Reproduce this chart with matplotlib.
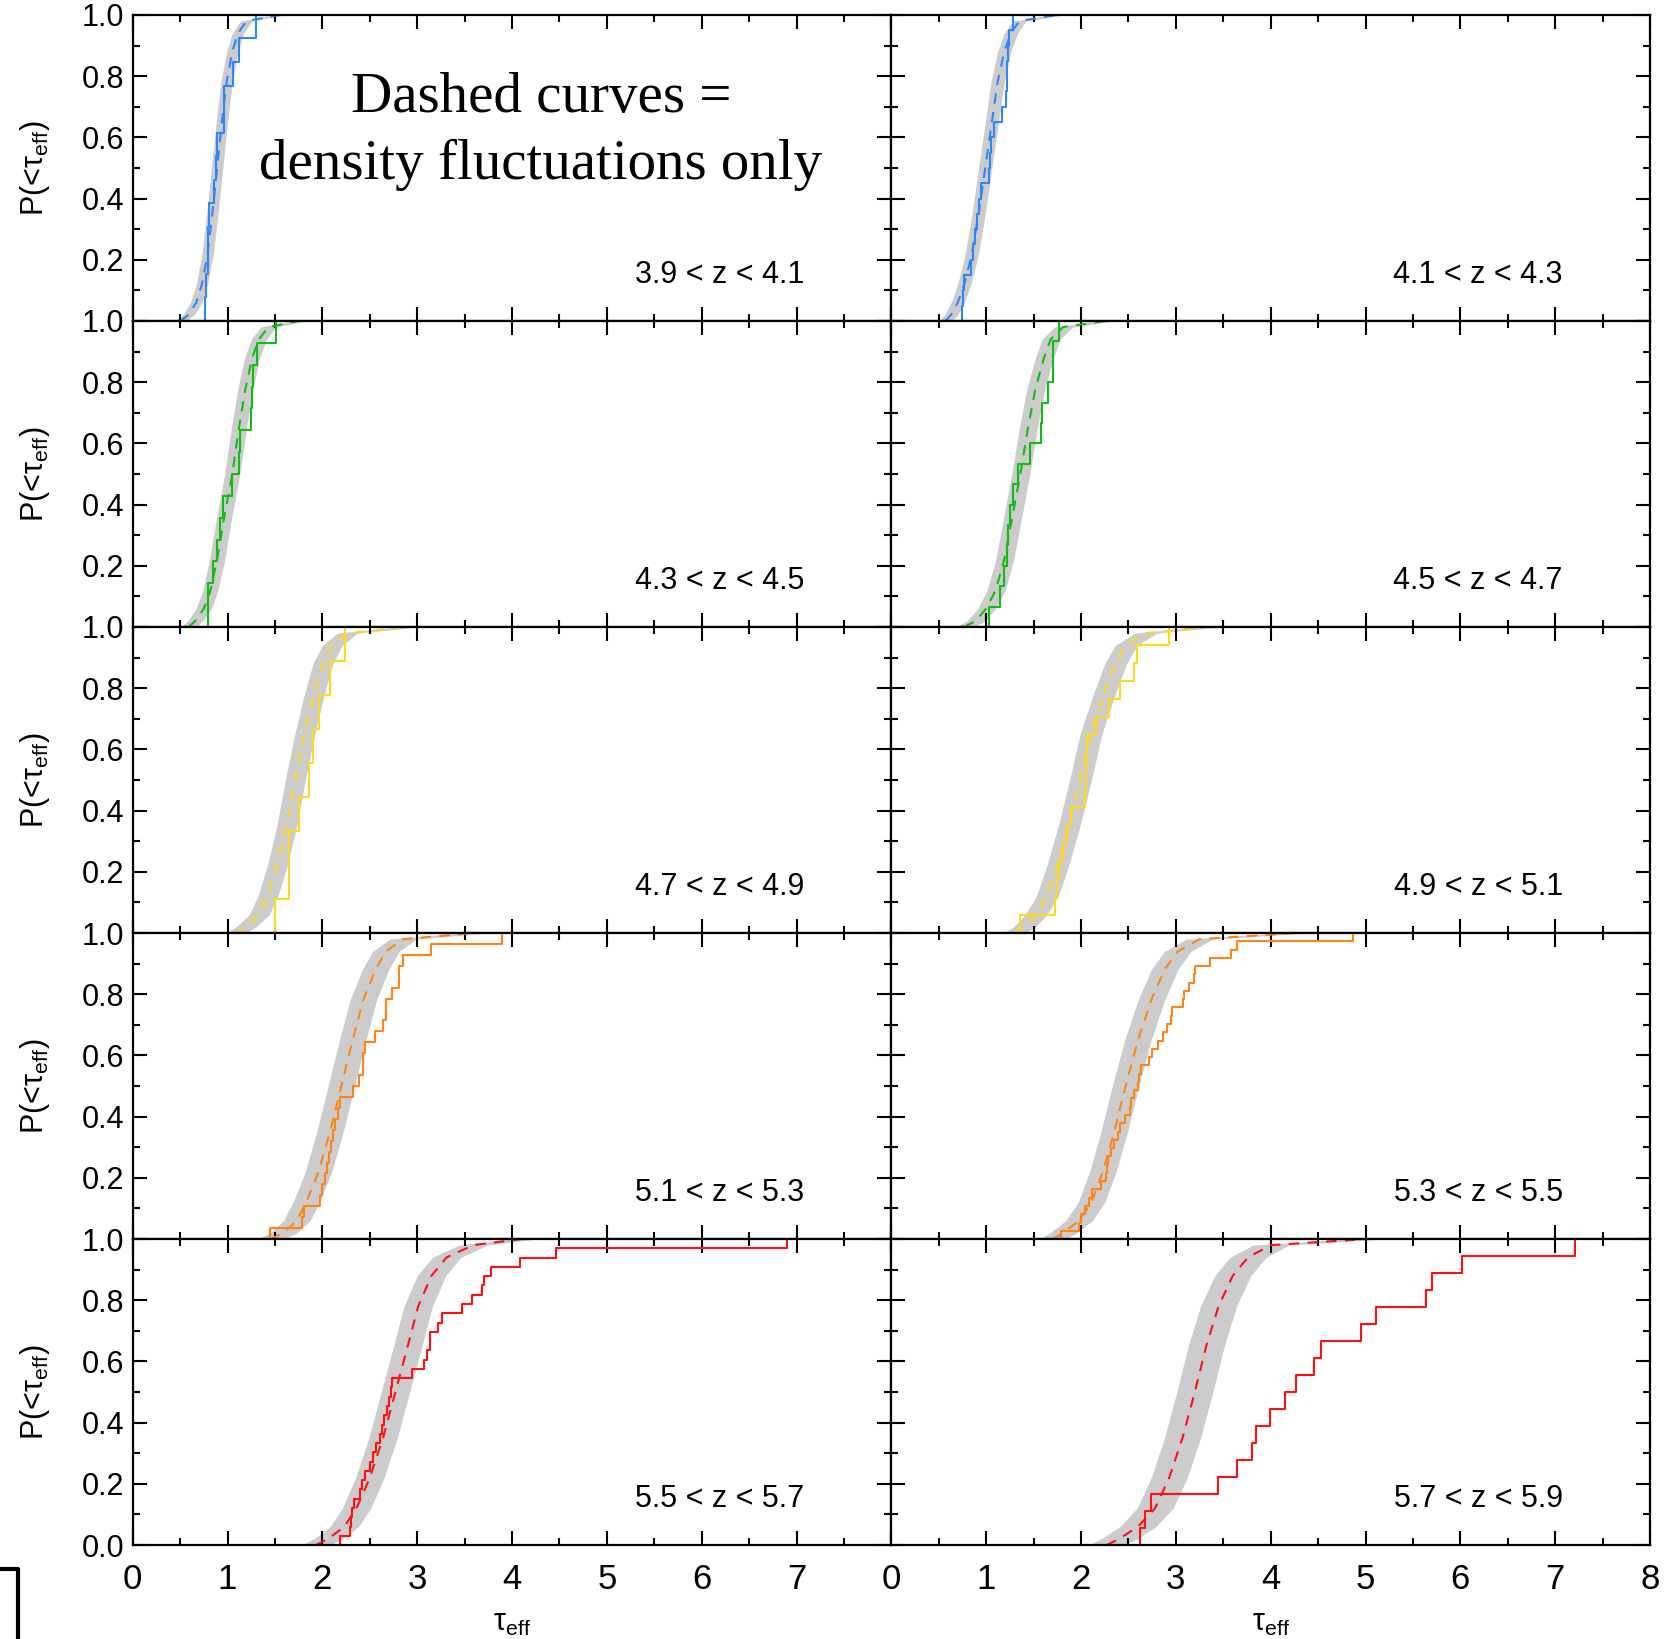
import numpy as np
import matplotlib
matplotlib.use("Agg")
import matplotlib.pyplot as plt
from matplotlib.lines import Line2D


PANEL_LABELS = [
    "3.9 < z < 4.1", "4.1 < z < 4.3",
    "4.3 < z < 4.5", "4.5 < z < 4.7",
    "4.7 < z < 4.9", "4.9 < z < 5.1",
    "5.1 < z < 5.3", "5.3 < z < 5.5",
    "5.5 < z < 5.7", "5.7 < z < 5.9",
]

ROW_COLORS = ["#2f86f5", "#14bb14", "#ffd820", "#ff8418", "#ff1010"]

P_LEVELS = [0.0, 0.02, 0.06, 0.12, 0.22, 0.35, 0.5, 0.65, 0.78, 0.88, 0.94, 0.98, 1.0]

# dashed curves (density fluctuations only), tau_eff at each P level
MODEL_MEDIAN = [
    [0.50, 0.59, 0.67, 0.73, 0.79, 0.84, 0.89, 0.94, 0.99, 1.05, 1.11, 1.20, 1.55],
    [0.57, 0.63, 0.70, 0.77, 0.85, 0.92, 0.99, 1.06, 1.12, 1.19, 1.26, 1.35, 1.75],
    [0.59, 0.66, 0.75, 0.82, 0.89, 0.96, 1.05, 1.12, 1.19, 1.26, 1.33, 1.43, 1.75],
    [0.77, 0.89, 1.00, 1.10, 1.19, 1.27, 1.36, 1.44, 1.52, 1.61, 1.68, 1.81, 2.25],
    [1.08, 1.19, 1.33, 1.42, 1.52, 1.62, 1.71, 1.81, 1.91, 2.00, 2.10, 2.26, 2.90],
    [1.29, 1.40, 1.52, 1.64, 1.75, 1.87, 1.99, 2.10, 2.24, 2.36, 2.47, 2.68, 3.35],
    [1.45, 1.59, 1.73, 1.83, 1.96, 2.08, 2.20, 2.32, 2.43, 2.56, 2.67, 2.85, 3.60],
    [1.70, 1.81, 1.98, 2.11, 2.23, 2.35, 2.47, 2.60, 2.74, 2.88, 3.02, 3.25, 4.25],
    [1.93, 2.06, 2.23, 2.36, 2.50, 2.64, 2.77, 2.90, 3.01, 3.15, 3.31, 3.59, 4.10],
    [2.27, 2.40, 2.60, 2.78, 2.93, 3.07, 3.20, 3.32, 3.45, 3.60, 3.76, 4.00, 5.00],
]

# grey band, left and right edges
BAND_LO = [
    [0.44, 0.53, 0.61, 0.67, 0.73, 0.78, 0.83, 0.88, 0.93, 0.99, 1.05, 1.14, 1.49],
    [0.50, 0.56, 0.63, 0.70, 0.78, 0.85, 0.92, 0.99, 1.05, 1.12, 1.19, 1.28, 1.68],
    [0.51, 0.58, 0.67, 0.74, 0.81, 0.88, 0.97, 1.04, 1.11, 1.18, 1.25, 1.35, 1.67],
    [0.68, 0.80, 0.91, 1.01, 1.10, 1.18, 1.27, 1.35, 1.43, 1.52, 1.59, 1.72, 2.16],
    [0.98, 1.09, 1.23, 1.32, 1.42, 1.52, 1.61, 1.71, 1.81, 1.90, 2.00, 2.16, 2.80],
    [1.18, 1.29, 1.41, 1.53, 1.64, 1.76, 1.88, 1.99, 2.13, 2.25, 2.36, 2.57, 3.24],
    [1.31, 1.45, 1.59, 1.69, 1.82, 1.94, 2.06, 2.18, 2.29, 2.42, 2.53, 2.71, 3.46],
    [1.56, 1.67, 1.84, 1.97, 2.09, 2.21, 2.33, 2.46, 2.60, 2.74, 2.88, 3.11, 4.11],
    [1.78, 1.91, 2.08, 2.21, 2.35, 2.49, 2.62, 2.75, 2.86, 3.00, 3.16, 3.44, 3.95],
    [2.08, 2.21, 2.41, 2.59, 2.74, 2.88, 3.01, 3.13, 3.26, 3.41, 3.57, 3.81, 4.81],
]
BAND_HI = [
    [0.56, 0.65, 0.73, 0.79, 0.85, 0.90, 0.95, 1.00, 1.05, 1.11, 1.17, 1.26, 1.61],
    [0.64, 0.70, 0.77, 0.84, 0.92, 0.99, 1.06, 1.13, 1.19, 1.26, 1.33, 1.42, 1.82],
    [0.67, 0.74, 0.83, 0.90, 0.97, 1.04, 1.13, 1.20, 1.27, 1.34, 1.41, 1.51, 1.83],
    [0.87, 0.99, 1.10, 1.20, 1.29, 1.37, 1.46, 1.54, 1.62, 1.71, 1.78, 1.91, 2.35],
    [1.19, 1.30, 1.44, 1.53, 1.63, 1.73, 1.82, 1.92, 2.02, 2.11, 2.21, 2.37, 3.01],
    [1.41, 1.52, 1.64, 1.76, 1.87, 1.99, 2.11, 2.22, 2.36, 2.48, 2.59, 2.80, 3.47],
    [1.59, 1.73, 1.87, 1.97, 2.10, 2.22, 2.34, 2.46, 2.57, 2.70, 2.81, 2.99, 3.74],
    [1.84, 1.95, 2.12, 2.25, 2.37, 2.49, 2.61, 2.74, 2.88, 3.02, 3.16, 3.39, 4.39],
    [2.08, 2.21, 2.38, 2.51, 2.65, 2.79, 2.92, 3.05, 3.16, 3.30, 3.46, 3.74, 4.25],
    [2.46, 2.59, 2.79, 2.97, 3.12, 3.26, 3.39, 3.51, 3.64, 3.79, 3.95, 4.19, 5.19],
]

# observed tau_eff values per redshift bin (step curves)
OBS_TAU = [
    [0.76, 0.77, 0.79, 0.79, 0.80, 0.86, 0.88, 0.89, 0.96, 0.96, 1.06, 1.12, 1.30],
    [0.75, 0.76, 0.77, 0.84, 0.86, 0.88, 0.90, 0.92, 0.95, 1.03, 1.04, 1.05, 1.08,
     1.17, 1.21, 1.22, 1.22, 1.23, 1.24, 1.28],
    [0.79, 0.79, 0.85, 0.89, 0.92, 0.95, 1.05, 1.12, 1.13, 1.25, 1.26, 1.27, 1.31, 1.51],
    [1.03, 1.15, 1.19, 1.22, 1.23, 1.25, 1.28, 1.34, 1.46, 1.58, 1.59, 1.65, 1.70,
     1.70, 1.77],
    [1.50, 1.65, 1.65, 1.75, 1.86, 1.90, 1.96, 2.08, 2.24],
    [1.36, 1.73, 1.75, 1.77, 1.81, 1.85, 1.89, 2.04, 2.05, 2.05, 2.06, 2.16, 2.30,
     2.41, 2.56, 2.59, 2.93],
    [1.45, 1.79, 1.81, 1.97, 2.00, 2.03, 2.05, 2.07, 2.09, 2.11, 2.13, 2.17, 2.19,
     2.32, 2.39, 2.43, 2.43, 2.45, 2.55, 2.64, 2.67, 2.67, 2.73, 2.81, 2.81, 2.85,
     3.15, 3.89],
    [1.79, 1.98, 2.00, 2.04, 2.08, 2.12, 2.21, 2.26, 2.27, 2.28, 2.32, 2.35, 2.39,
     2.41, 2.46, 2.52, 2.53, 2.56, 2.60, 2.61, 2.63, 2.72, 2.75, 2.81, 2.86, 2.91,
     2.95, 2.96, 3.08, 3.09, 3.14, 3.19, 3.20, 3.36, 3.58, 3.64, 4.87],
    [2.19, 2.29, 2.30, 2.31, 2.33, 2.40, 2.42, 2.45, 2.50, 2.53, 2.57, 2.61, 2.63,
     2.65, 2.68, 2.70, 2.72, 2.73, 2.95, 3.07, 3.10, 3.13, 3.13, 3.22, 3.26, 3.47,
     3.58, 3.68, 3.70, 3.78, 4.08, 4.46, 6.90],
    [2.62, 2.67, 2.74, 3.44, 3.65, 3.80, 3.84, 3.99, 4.15, 4.27, 4.46, 4.53, 4.95,
     5.11, 5.64, 5.70, 6.02, 7.21],
]


def main():
    plt.rcParams["font.family"] = ["Liberation Sans", "DejaVu Sans"]
    plt.rcParams["mathtext.fontset"] = "custom"
    plt.rcParams["mathtext.rm"] = "Liberation Sans"
    plt.rcParams["mathtext.it"] = "Liberation Sans:italic"

    fig, axes = plt.subplots(5, 2, figsize=(16.65, 16.39), dpi=100)
    fig.subplots_adjust(left=0.0797, right=0.991, top=0.9909, bottom=0.0573,
                        wspace=0, hspace=0)

    for i, ax in enumerate(axes.flat):
        row, col = divmod(i, 2)
        color = ROW_COLORS[row]

        ax.fill_betweenx(P_LEVELS, BAND_LO[i], BAND_HI[i], color="#cccccc",
                         lw=0, zorder=1)
        ax.plot(MODEL_MEDIAN[i], P_LEVELS, color=color, lw=1.5,
                dashes=(5, 4), zorder=2)

        # empirical cumulative distribution as a staircase
        tau = np.sort(OBS_TAU[i])
        n = len(tau)
        k = np.arange(n)
        xs = np.repeat(tau, 2)
        ys = np.column_stack([k / n, (k + 1) / n]).ravel()
        ax.plot(xs, ys, color=color, lw=1.5, zorder=3)

        ax.set_xlim(0, 8)
        ax.set_ylim(0, 1)
        ax.set_xticks(np.arange(0, 9))
        ax.set_xticks(np.arange(0, 8.01, 0.5), minor=True)
        ax.set_yticks(np.linspace(0, 1, 6))
        ax.set_yticks(np.linspace(0, 1, 11), minor=True)
        ax.tick_params(which="both", direction="in", top=True, right=True,
                       width=1.5, color="black")
        ax.tick_params(which="major", length=10)
        ax.tick_params(which="minor", length=5)
        ax.tick_params(axis="y", labelsize=22, pad=6)
        ax.tick_params(axis="x", labelsize=25, pad=13)
        for spine in ax.spines.values():
            spine.set_linewidth(1.6)
            spine.set_zorder(5)

        if col == 0:
            ylabels = ["", "0.2", "0.4", "0.6", "0.8", "1.0"]
            if row == 4:
                ylabels[0] = "0.0"
            ax.set_yticklabels(ylabels)
            ax.set_ylabel(r"P(<τ$_{\rm eff}$)", fontsize=22)
            ax.yaxis.set_label_coords(-0.107, 0.5)
        else:
            ax.set_yticklabels([])

        if row == 4:
            xlabels = [str(v) for v in range(9)]
            if col == 0:
                xlabels[-1] = ""
            ax.set_xticklabels(xlabels)
            ax.set_xlabel(r"τ$_{\rm eff}$", fontsize=22)
            ax.xaxis.set_label_coords(0.5, -0.205)
        else:
            ax.set_xticklabels([])

        ax.text(0.885, 0.15, PANEL_LABELS[i], transform=ax.transAxes,
                ha="right", va="center", fontsize=22)

    ax0 = axes[0, 0]
    ax0.text(0.538, 0.728, "Dashed curves =", transform=ax0.transAxes,
             ha="center", va="center", fontsize=41, family="Liberation Serif")
    ax0.text(0.538, 0.509, "density fluctuations only", transform=ax0.transAxes,
             ha="center", va="center", fontsize=41, family="Liberation Serif")

    # leftover bracket in the lower-left corner of the original figure
    fig.add_artist(Line2D([0.0, 0.0108, 0.0108], [0.0427, 0.0427, 0.0],
                          transform=fig.transFigure, color="black", lw=3))

    fig.savefig("out.png", dpi=100)


if __name__ == "__main__":
    main()
